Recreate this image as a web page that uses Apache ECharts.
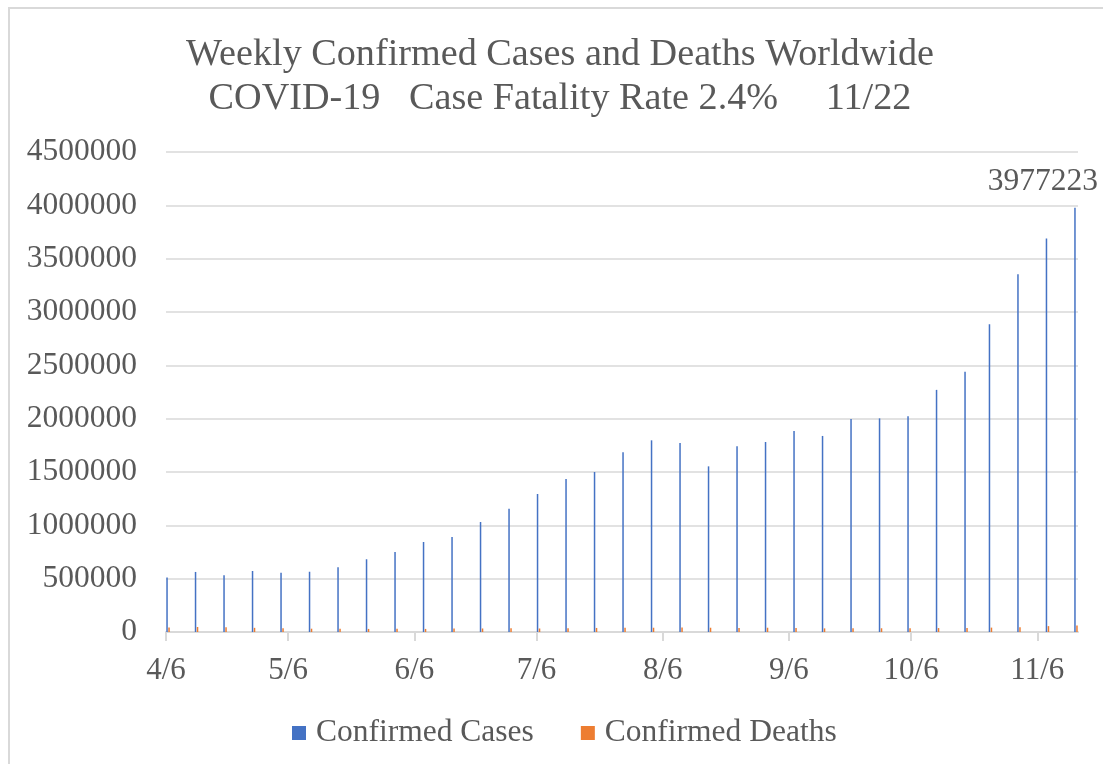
<!DOCTYPE html>
<html>
<head>
<meta charset="utf-8">
<title>Weekly Confirmed Cases and Deaths Worldwide</title>
<script src="https://cdn.jsdelivr.net/npm/echarts@6/dist/echarts.min.js"></script>
<style>
    html, body { margin: 0; padding: 0; background: #ffffff; }
    #chart { width: 1103px; height: 764px; }
</style>
</head>
<body>
<div id="chart"></div>
<script type="text/javascript">
    // weekly report dates
    var weeks = [
        '2020-04-06', '2020-04-13', '2020-04-20', '2020-04-27', '2020-05-04', '2020-05-11',
        '2020-05-18', '2020-05-25', '2020-06-01', '2020-06-08', '2020-06-15', '2020-06-22',
        '2020-06-29', '2020-07-06', '2020-07-13', '2020-07-20', '2020-07-27', '2020-08-03',
        '2020-08-10', '2020-08-17', '2020-08-24', '2020-08-31', '2020-09-07', '2020-09-14',
        '2020-09-21', '2020-09-28', '2020-10-05', '2020-10-12', '2020-10-19', '2020-10-25',
        '2020-11-01', '2020-11-08', '2020-11-15'
    ];
    var confirmedCases = [
        512000, 563000, 532000, 572000, 556000, 565000,
        607000, 682000, 750000, 844000, 891000, 1031000,
        1156000, 1294000, 1434000, 1500000, 1684000, 1797000,
        1772000, 1553000, 1741000, 1781000, 1884000, 1838000,
        1997000, 2003000, 2023000, 2270000, 2440000, 2885000,
        3354000, 3690000, 3977223
    ];
    var confirmedDeaths = [
        42000, 47000, 45000, 39000, 36000, 31000,
        30000, 29000, 31000, 29000, 32000, 33000,
        35000, 33000, 36000, 38000, 40000, 40000,
        42000, 40000, 38000, 40000, 38000, 34000,
        36000, 35000, 35000, 37000, 38000, 41000,
        45000, 55000, 62000
    ];
    // x axis ticks / labels (one a month, on the 6th)
    var monthTicks = [
        '2020-04-06', '2020-05-06', '2020-06-06', '2020-07-06',
        '2020-08-06', '2020-09-06', '2020-10-06', '2020-11-06'
    ];
    var axisStart = '2020-04-06';
    var axisEnd = '2020-11-16';

    var HALF_DAY = 12 * 3600 * 1000;
    var font = 'Liberation Serif';
    var grey = '#595959';

    function toTime(d) {
        return new Date(d + 'T00:00:00').getTime();
    }

    // Excel centres each bar cluster in the middle of its day slot
    var casesData = weeks.map(function (d, i) {
        var item = { value: [toTime(d) + HALF_DAY, confirmedCases[i]] };
        if (i === weeks.length - 1) {
            item.label = {
                show: true,
                position: 'top',
                offset: [-32, -5],
                fontFamily: font,
                fontSize: 31.5,
                color: grey
            };
        }
        return item;
    });
    var deathsData = weeks.map(function (d, i) {
        return [toTime(d) + HALF_DAY, confirmedDeaths[i]];
    });

    var chart = echarts.init(document.getElementById('chart'), null, { renderer: 'canvas' });

    var option = {
        backgroundColor: '#ffffff',
        animation: false,
        title: {
            text: 'Weekly Confirmed Cases and Deaths Worldwide\nCOVID-19   Case Fatality Rate 2.4%     11/22',
            left: 560,
            top: 33,
            padding: 0,
            textAlign: 'center',
            textStyle: {
                fontFamily: font,
                fontSize: 38.2,
                fontWeight: 'normal',
                lineHeight: 44,
                color: grey
            }
        },
        legend: {
            data: ['Confirmed Cases', 'Confirmed Deaths'],
            left: 292,
            top: 717,
            icon: 'rect',
            itemWidth: 14,
            itemHeight: 14,
            itemGap: 47,
            padding: 0,
            textStyle: {
                fontFamily: font,
                fontSize: 31.5,
                color: grey,
                padding: [0, 0, 0, 5]
            }
        },
        grid: {
            left: 166,
            right: 25,
            top: 152,
            bottom: 132,
            outerBoundsMode: 'none'
        },
        // dates as millisecond values, so the monthly ticks can sit on the 6th
        xAxis: {
            type: 'value',
            min: toTime(axisStart),
            max: toTime(axisEnd),
            axisLine: { show: true, lineStyle: { color: '#d9d9d9', width: 2 } },
            axisTick: {
                show: true,
                length: 9,
                customValues: monthTicks.map(toTime),
                lineStyle: { color: '#d9d9d9', width: 2 }
            },
            axisLabel: {
                customValues: monthTicks.map(toTime),
                margin: 23,
                fontFamily: font,
                fontSize: 31,
                color: grey,
                formatter: function (v) {
                    var d = new Date(v);
                    return (d.getMonth() + 1) + '/' + d.getDate();
                }
            },
            splitLine: { show: false }
        },
        yAxis: {
            type: 'value',
            min: 0,
            max: 4500000,
            interval: 500000,
            axisLine: { show: false },
            axisTick: { show: false },
            axisLabel: {
                margin: 29,
                fontFamily: font,
                fontSize: 31.5,
                color: grey,
                formatter: function (v) {
                    return String(v);
                }
            },
            splitLine: { lineStyle: { color: '#d9d9d9', width: 1.5 } }
        },
        graphic: [
            {
                type: 'polyline',
                silent: true,
                shape: { points: [[9, 800], [9, 8], [1110, 8]] },
                style: { fill: null, stroke: '#d9d9d9', lineWidth: 2 }
            }
        ],
        series: [
            {
                name: 'Confirmed Cases',
                type: 'bar',
                barWidth: 1.5,
                barGap: '33%',
                itemStyle: { color: '#4472C4' },
                data: casesData
            },
            {
                name: 'Confirmed Deaths',
                type: 'bar',
                barWidth: 1.5,
                barGap: '33%',
                itemStyle: { color: '#ED7D31' },
                data: deathsData
            }
        ]
    };

    chart.setOption(option);
    window.addEventListener('resize', chart.resize);
</script>
</body>
</html>
